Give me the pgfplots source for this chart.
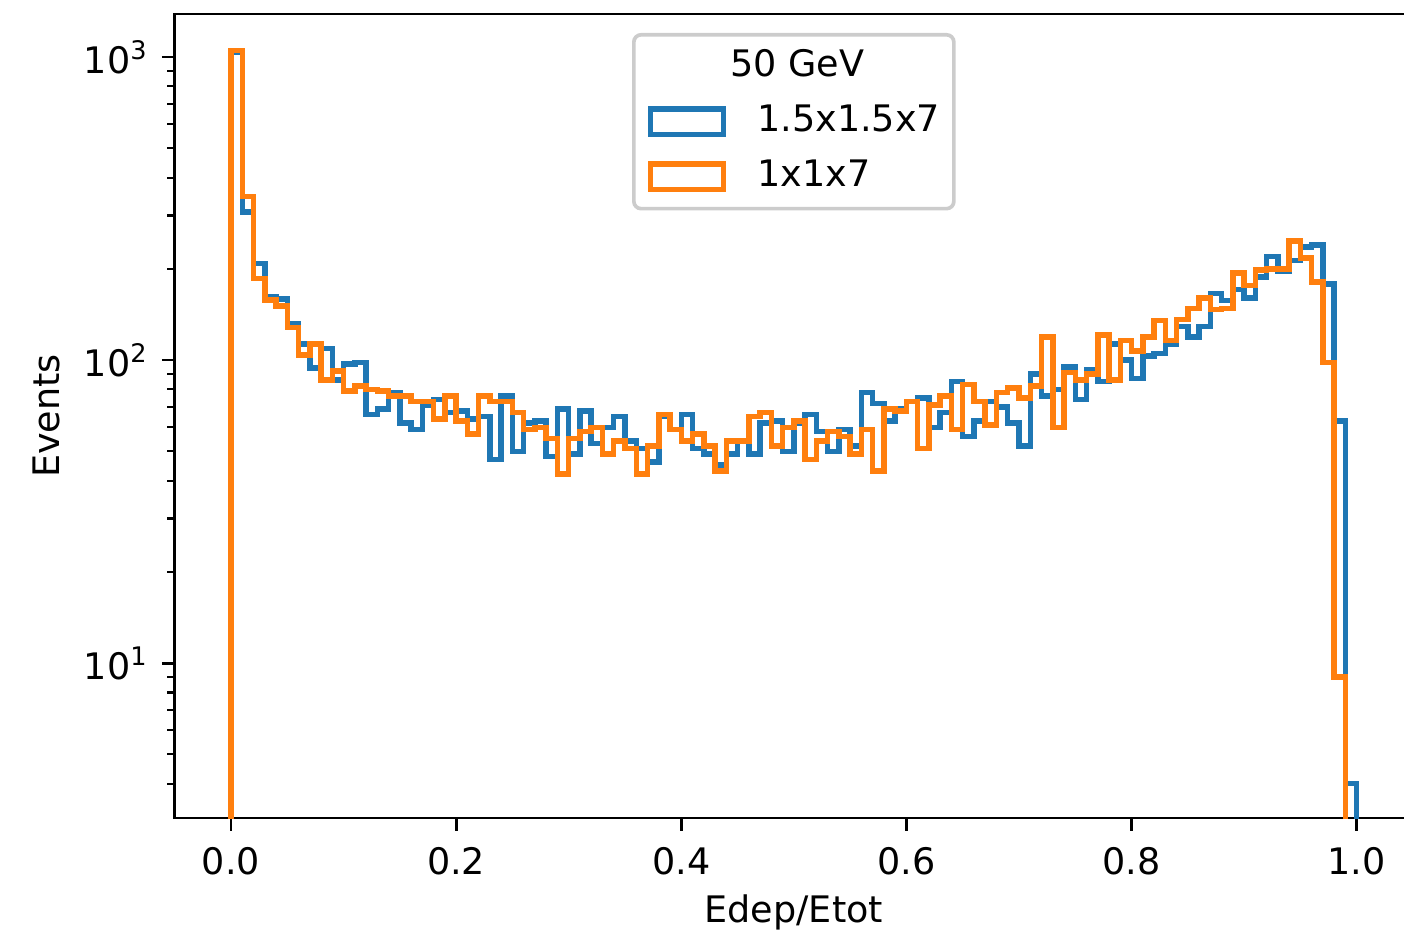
\documentclass[border=0pt]{standalone}
\usepackage{fontspec}
\setmainfont{DejaVu Sans}
\usepackage{pgfplots}
\pgfplotsset{compat=1.18}
\definecolor{tabblue}{HTML}{1F77B4}
\definecolor{taborange}{HTML}{FF7F0E}
\begin{document}
\begin{tikzpicture}
\begin{semilogyaxis}[
  name=ax,
  scale only axis,
  width=338.95pt, height=220.1pt,
  xmin=-0.05, xmax=1.05,
  ymin=3.08, ymax=1387,
  axis line style={line width=0.8pt},
  tick align=outside,
  xtick pos=bottom, ytick pos=left,
  major tick length=3.5pt, minor tick length=2pt,
  major tick style={line width=0.8pt, black},
  minor tick style={line width=0.6pt, black},
  xtick={0,0.2,0.4,0.6,0.8,1.0},
  xticklabels={0.0,0.2,0.4,0.6,0.8,1.0},
  ytick={10,100,1000},
  yticklabels={10\textsuperscript{1},10\textsuperscript{2},10\textsuperscript{3}},
  minor ytick={4,5,6,7,8,9,20,30,40,50,60,70,80,90,200,300,400,500,600,700,800,900},
  xticklabel style={anchor=base, inner sep=0pt, yshift=-12.1pt},
  yticklabel style={anchor=east, inner sep=0pt, text depth=0pt, xshift=-3.5pt},
  every axis x label/.style={at={(axis description cs:0.5,-0.1304)}, anchor=base},
  every axis y label/.style={at={(axis description cs:-0.1036,0.5)}, rotate=90, anchor=center},
  xlabel={Edep/Etot},
  ylabel={Events},
  legend cell align=left,
  legend image code/.code={\draw[#1, sharp corners, line width=1.5pt] (0pt,-3.5pt) rectangle (20pt,3.5pt);},
  legend style={at={(axis description cs:0.5,0.9764)}, anchor=north,
    draw=black!20, line width=1pt, rounded corners=2pt, fill=white,
    inner xsep=3.8pt, inner ysep=4.1pt, row sep=5.9pt, column sep=1.1pt,
    nodes={inner sep=0pt, text height=7.3pt, text depth=1.9pt}},
]
\addlegendimage{empty legend}
\addlegendentry[xshift=-7.4pt]{50 GeV}

% 1.5x1.5x7 cells
\addplot[tabblue, line width=1.5pt, const plot mark left] coordinates {
(0,1)(0,1040)(0.01,308)(0.02,208)(0.03,162)(0.04,159)(0.05,132)(0.06,113)(0.07,94)(0.08,109)(0.09,86)
(0.10,97)(0.11,98)(0.12,66)(0.13,69)(0.14,78)(0.15,62)(0.16,59)(0.17,71)(0.18,74)(0.19,67)
(0.20,68)(0.21,64)(0.22,65)(0.23,47)(0.24,76)(0.25,50)(0.26,62)(0.27,63)(0.28,48)(0.29,69)
(0.30,49)(0.31,68)(0.32,53)(0.33,60)(0.34,65)(0.35,54)(0.36,51)(0.37,46)(0.38,65)(0.39,59)
(0.40,66)(0.41,51)(0.42,49)(0.43,45)(0.44,49)(0.45,54)(0.46,49)(0.47,62)(0.48,63)(0.49,50)
(0.50,62)(0.51,66)(0.52,58)(0.53,50)(0.54,59)(0.55,52)(0.56,78)(0.57,72)(0.58,63)(0.59,69)
(0.60,73)(0.61,75)(0.62,60)(0.63,67)(0.64,85)(0.65,56)(0.66,63)(0.67,73)(0.68,70)(0.69,62)
(0.70,52)(0.71,90)(0.72,76)(0.73,80)(0.74,95)(0.75,74)(0.76,93)(0.77,85)(0.78,113)(0.79,100)
(0.80,87)(0.81,103)(0.82,105)(0.83,113)(0.84,129)(0.85,119)(0.86,129)(0.87,166)(0.88,157)(0.89,171)
(0.90,160)(0.91,188)(0.92,220)(0.93,196)(0.94,213)(0.95,236)(0.96,240)(0.97,178)(0.98,63)(0.99,4)
(1.0,4)(1.0,1)
};
\addlegendentry{1.5x1.5x7}

% 1x1x7 cells
\addplot[taborange, line width=1.5pt, const plot mark left] coordinates {
(0,1)(0,1050)(0.01,346)(0.02,186)(0.03,158)(0.04,151)(0.05,128)(0.06,104)(0.07,113)(0.08,86)(0.09,92)
(0.10,79)(0.11,82)(0.12,80)(0.13,79)(0.14,76)(0.15,76)(0.16,73)(0.17,73)(0.18,64)(0.19,76)
(0.20,63)(0.21,57)(0.22,76)(0.23,73)(0.24,73)(0.25,67)(0.26,59)(0.27,60)(0.28,55)(0.29,42)
(0.30,55)(0.31,58)(0.32,60)(0.33,49)(0.34,54)(0.35,51)(0.36,42)(0.37,52)(0.38,66)(0.39,59)
(0.40,54)(0.41,57)(0.42,52)(0.43,43)(0.44,54)(0.45,54)(0.46,65)(0.47,67)(0.48,52)(0.49,60)
(0.50,63)(0.51,47)(0.52,54)(0.53,58)(0.54,56)(0.55,49)(0.56,59)(0.57,43)(0.58,69)(0.59,68)
(0.60,73)(0.61,51)(0.62,71)(0.63,76)(0.64,59)(0.65,83)(0.66,73)(0.67,61)(0.68,78)(0.69,81)
(0.70,75)(0.71,82)(0.72,119)(0.73,60)(0.74,91)(0.75,86)(0.76,90)(0.77,121)(0.78,86)(0.79,116)
(0.80,107)(0.81,119)(0.82,135)(0.83,116)(0.84,136)(0.85,148)(0.86,160)(0.87,147)(0.88,148)(0.89,194)
(0.90,176)(0.91,198)(0.92,200)(0.93,200)(0.94,247)(0.95,217)(0.96,181)(0.97,98)(0.98,9)(0.99,1)
(1.0,1)
};
\addlegendentry{1x1x7}
\end{semilogyaxis}
\pgfresetboundingbox
\path[use as bounding box] ([xshift=-47.83pt,yshift=-32.03pt]ax.south west) rectangle ([xshift=336.5pt,yshift=3.83pt]ax.north west);
\end{tikzpicture}
\end{document}
